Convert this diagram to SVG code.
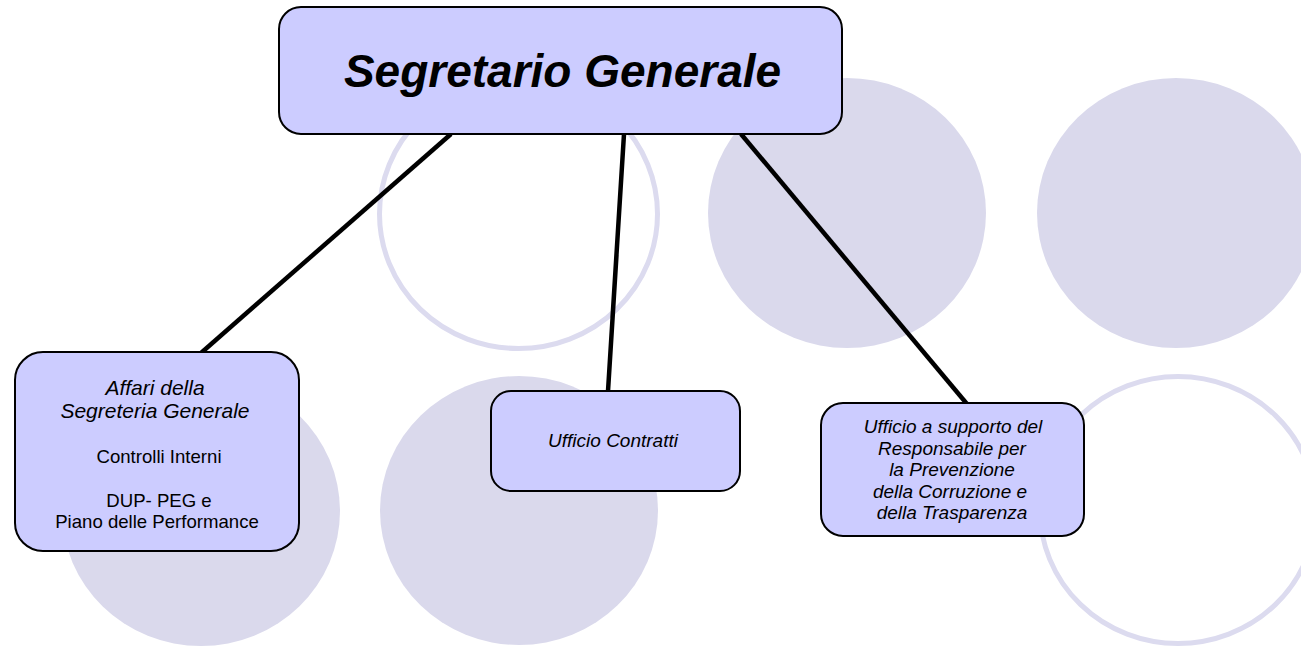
<svg xmlns="http://www.w3.org/2000/svg" width="1301" height="647" viewBox="0 0 1301 647">
<style>
.bg{fill:#ffffff}
.disc{fill:#dad9ec}
.ring{fill:none;stroke:#dcdbef;stroke-width:5}
.box{fill:#ccccff;stroke:#000000;stroke-width:2}
.conn{stroke:#000000;stroke-width:4.5;fill:none}
text{font-family:"Liberation Sans",Arial,sans-serif;fill:#000000;text-anchor:middle}
.it{font-style:italic;font-size:19px}
.itl{font-style:italic;font-size:21px}
.rg{font-size:18.6px}
.title{font-style:italic;font-weight:bold;font-size:46px}
</style>
<rect class="bg" x="0" y="0" width="1301" height="647"/>
<g id="decor">
<ellipse class="ring" cx="518.5" cy="214" rx="139" ry="134.5"/>
<ellipse class="disc" cx="847" cy="213" rx="139" ry="135"/>
<ellipse class="disc" cx="1176" cy="213" rx="139" ry="135"/>
<ellipse class="disc" cx="201" cy="511" rx="139" ry="135"/>
<ellipse class="disc" cx="519" cy="510.5" rx="139" ry="134.5"/>
<ellipse class="ring" cx="1178" cy="510" rx="138" ry="133.5"/>
</g>
<g id="connectors">
<line class="conn" x1="451" y1="134" x2="201" y2="353"/>
<line class="conn" x1="624" y1="134" x2="608" y2="391"/>
<line class="conn" x1="741" y1="134" x2="967" y2="404"/>
</g>
<g id="segretario">
<rect class="box" x="279" y="7" width="563" height="127" rx="22"/>
<text class="title" x="562.5" y="87">Segretario Generale</text>
</g>
<g id="affari">
<rect class="box" x="15" y="352" width="284" height="199" rx="28"/>
<text class="itl" x="155" y="395">Affari della</text>
<text class="itl" x="155" y="418">Segreteria Generale</text>
<text class="rg" x="159" y="463">Controlli Interni</text>
<text class="rg" x="159" y="507">DUP- PEG e</text>
<text class="rg" x="157" y="528">Piano delle Performance</text>
</g>
<g id="contratti">
<rect class="box" x="491" y="391" width="249" height="100" rx="20"/>
<text class="it" x="613" y="447">Ufficio Contratti</text>
</g>
<g id="anticorruzione">
<rect class="box" x="821" y="403" width="263" height="133" rx="22"/>
<text class="it" x="953" y="433">Ufficio a supporto del</text>
<text class="it" x="952" y="455">Responsabile per</text>
<text class="it" x="952" y="476">la Prevenzione</text>
<text class="it" x="950" y="498">della Corruzione e</text>
<text class="it" x="952" y="519">della Trasparenza</text>
</g>
</svg>
